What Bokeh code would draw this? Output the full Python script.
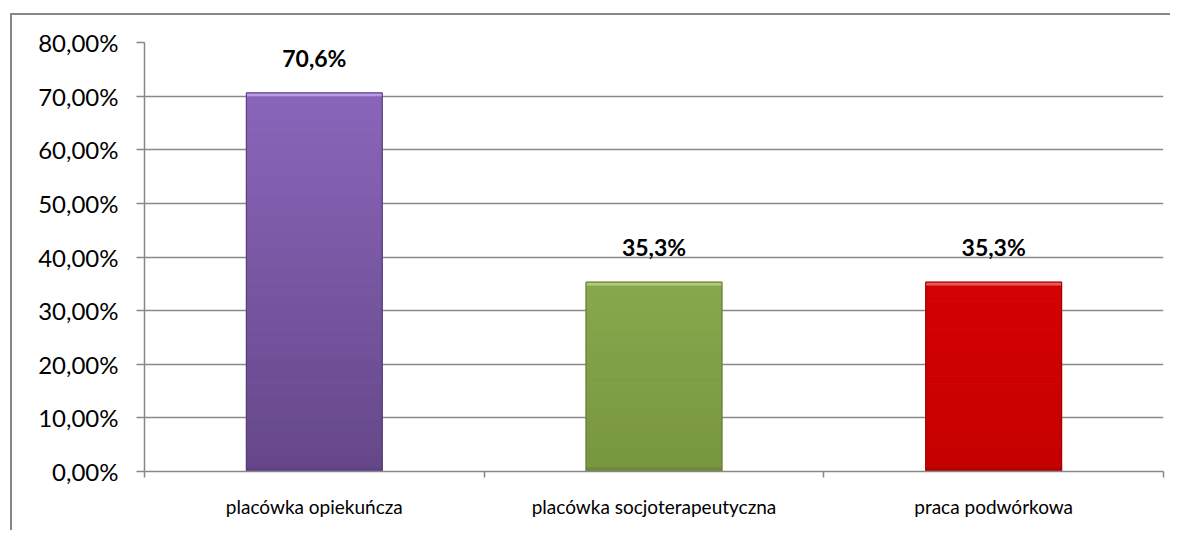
from bokeh.plotting import figure
from bokeh.models import FixedTicker, Range1d
from bokeh.core.properties import value
from bokeh.embed import file_html
from bokeh.resources import INLINE

categories = ["placówka opiekuńcza", "placówka socjoterapeutyczna", "praca podwórkowa"]
values = [70.6, 35.3, 35.3]
value_labels = ["70,6%", "35,3%", "35,3%"]
y_ticks = [0, 10, 20, 30, 40, 50, 60, 70, 80]
y_tick_labels = ["0,00%", "10,00%", "20,00%", "30,00%", "40,00%", "50,00%", "60,00%", "70,00%", "80,00%"]
top_colors = ["#8a65ba", "#88a84d", "#d40202"]
bottom_colors = ["#654889", "#77963f", "#c50000"]
highlight_colors = ["#c2a2ee", "#b4d47e", "#ef6a6a"]
edge_colors = ["#4f3870", "#5c7630", "#9a0000"]

FONT = "Lato"

p = figure(width=1160, height=517, margin=(13, 0, 0, 10),
           x_range=Range1d(0, 3), y_range=Range1d(0, 80),
           output_backend="svg", toolbar_location=None,
           min_border_left=132, min_border_right=9, min_border_top=27, min_border_bottom=61,
           styles={"border-top": "2px solid #878787", "border-left": "2px solid #878787"})
p.outline_line_color = None
p.background_fill_color = "white"
p.border_fill_color = "white"

xs = [i + 0.5 for i in range(len(categories))]
bw = 0.4


def hex2rgb(h):
    return tuple(int(h[i:i + 2], 16) for i in (1, 3, 5))


def mix(a, b, t):
    ra, rb = hex2rgb(a), hex2rgb(b)
    return "#%02x%02x%02x" % tuple(int(round(ra[k] + (rb[k] - ra[k]) * t)) for k in range(3))


N = 30
for i, v in enumerate(values):
    bots, tops, cols = [], [], []
    for s in range(N):
        bots.append(v * s / N)
        tops.append(v * (s + 1) / N)
        cols.append(mix(bottom_colors[i], top_colors[i], (s + 0.5) / N))
    p.vbar(x=[xs[i]] * N, bottom=bots, top=tops, width=bw, fill_color=cols,
           line_color=cols, line_width=1)
    # top bevel highlight
    p.vbar(x=[xs[i]], bottom=[v - 0.6], top=[v], width=bw, fill_color=highlight_colors[i],
           line_color=None, fill_alpha=0.85)
    # bottom darker bevel
    p.vbar(x=[xs[i]], bottom=[0], top=[0.8], width=bw, fill_color=edge_colors[i],
           line_color=None, fill_alpha=0.35)
    p.vbar(x=[xs[i]], bottom=[0], top=[v], width=bw, fill_color=None,
           line_color=edge_colors[i], line_width=1.2, line_alpha=0.8)

p.text(x=xs, y=values, text=value_labels, text_font=value(FONT), text_font_style="bold",
       text_font_size="23px", text_align="center", text_baseline="bottom",
       text_color="black", y_offset=-21)

# y axis
p.yaxis.ticker = FixedTicker(ticks=y_ticks, minor_ticks=[])
p.yaxis.major_label_overrides = {t: l for t, l in zip(y_ticks, y_tick_labels)}
p.yaxis.major_label_text_font = FONT
p.yaxis.major_label_text_font_size = "24px"
p.yaxis.major_label_text_color = "black"
p.yaxis.major_label_standoff = 18
p.yaxis.major_tick_out = 8
p.yaxis.major_tick_in = 0
p.yaxis.minor_tick_out = 0
p.yaxis.minor_tick_in = 0
p.yaxis.axis_line_color = "#878787"
p.yaxis.axis_line_width = 1.5
p.yaxis.major_tick_line_color = "#878787"
p.yaxis.major_tick_line_width = 1.5

# x axis
p.xaxis.ticker = FixedTicker(ticks=xs, minor_ticks=[0, 1, 2, 3])
p.xaxis.major_label_overrides = {x: c for x, c in zip(xs, categories)}
p.xaxis.major_label_text_font = FONT
p.xaxis.major_label_text_font_size = "19px"
p.xaxis.major_label_text_color = "black"
p.xaxis.major_label_standoff = 17
p.xaxis.major_tick_out = 0
p.xaxis.major_tick_in = 0
p.xaxis.minor_tick_out = 6
p.xaxis.minor_tick_in = 0
p.xaxis.minor_tick_line_color = "#878787"
p.xaxis.minor_tick_line_width = 1.5
p.xaxis.axis_line_color = "#878787"
p.xaxis.axis_line_width = 1.5

p.xgrid.grid_line_color = None
p.ygrid.ticker = FixedTicker(ticks=y_ticks)
p.ygrid.grid_line_color = "#8a8a8a"
p.ygrid.grid_line_width = 1.3

open("out.html", "w").write(file_html(p, INLINE))
